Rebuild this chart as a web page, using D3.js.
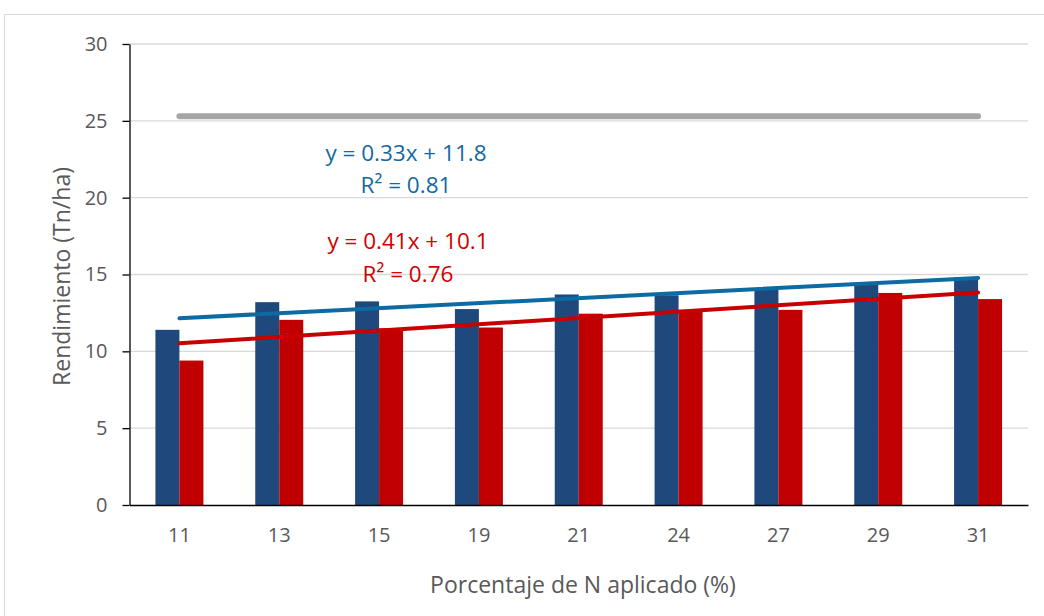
<!DOCTYPE html>
<html>
<head>
<meta charset="utf-8">
<script src="https://cdn.jsdelivr.net/npm/d3@7"></script>
<style>
  body { margin: 0; background: #fff; }
  text { font-family: "Open Sans", sans-serif; }
</style>
</head>
<body>
<div id="chart"></div>
<script>
// Data
const categories = ["11", "13", "15", "19", "21", "24", "27", "29", "31"];
const serieAzul = [11.4, 13.2, 13.25, 12.75, 13.7, 13.65, 14.05, 14.4, 14.8];
const serieRoja = [9.4, 12.05, 11.5, 11.55, 12.45, 12.7, 12.7, 13.8, 13.4];
const serieGris = [25.3, 25.3, 25.3, 25.3, 25.3, 25.3, 25.3, 25.3, 25.3];
const yTicks = [0, 5, 10, 15, 20, 25, 30];
const etiquetaAzul = ["y = 0.33x + 11.8", "R² = 0.81"];
const etiquetaRoja = ["y = 0.41x + 10.1", "R² = 0.76"];

const W = 1044, H = 616;
const plot = { left: 129.5, right: 1028, top: 44, bottom: 505 };

const svg = d3.select("#chart")
    .append("svg")
    .attr("width", W)
    .attr("height", H);

// Chart border
svg.append("rect")
    .attr("x", 4.5).attr("y", 14.5)
    .attr("width", W).attr("height", H)
    .attr("fill", "#fff")
    .attr("stroke", "#d9d9d9");

// Scales
const x = d3.scaleBand()
    .domain(categories)
    .range([plot.left, plot.right])
    .padding(0);
const bw = x.bandwidth();
const xSub = d3.scaleBand()
    .domain(["azul", "roja"])
    .range([bw / 2 - 24, bw / 2 + 24]);
const y = d3.scaleLinear()
    .domain([0, 30])
    .range([plot.bottom, plot.top]);

// Gridlines
svg.append("g")
    .selectAll("line")
    .data(yTicks.filter(d => d > 0))
    .join("line")
    .attr("x1", plot.left).attr("x2", plot.right)
    .attr("y1", d => y(d)).attr("y2", d => y(d))
    .attr("stroke", "#d9d9d9")
    .attr("stroke-width", 1.3);

// Bars
const rows = categories.map((c, i) => ({ c, azul: serieAzul[i], roja: serieRoja[i] }));
const colores = { azul: "#1f497d", roja: "#c00000" };
["azul", "roja"].forEach(k => {
    svg.append("g")
        .selectAll("rect")
        .data(rows)
        .join("rect")
        .attr("x", d => x(d.c) + xSub(k))
        .attr("width", xSub.bandwidth())
        .attr("y", d => y(d[k]))
        .attr("height", d => y(0) - y(d[k]))
        .attr("fill", colores[k]);
});

// Gray reference line
const cx = c => x(c) + bw / 2;
svg.append("path")
    .datum(categories.map((c, i) => [cx(c), y(serieGris[i])]))
    .attr("fill", "none")
    .attr("stroke", "#a6a6a6")
    .attr("stroke-width", 6)
    .attr("stroke-linecap", "round")
    .attr("d", d3.line());

// Linear trend lines (least squares on index 1..n)
function tendencia(vals) {
    const xs = vals.map((v, i) => i + 1);
    const mx = d3.mean(xs), my = d3.mean(vals);
    const a = d3.sum(xs, (xi, i) => (xi - mx) * (vals[i] - my)) / d3.sum(xs, xi => (xi - mx) ** 2);
    const b = my - a * mx;
    return xs.map(xi => a * xi + b);
}
[[serieAzul, "#0e6aa2"], [serieRoja, "#c80000"]].forEach(([vals, col]) => {
    const t = tendencia(vals);
    const pts = [0, categories.length - 1].map(i => [cx(categories[i]), y(t[i])]);
    svg.append("path")
        .datum(pts)
        .attr("fill", "none")
        .attr("stroke", col)
        .attr("stroke-width", 4)
        .attr("stroke-linecap", "round")
        .attr("d", d3.line());
});

// Axes
const yAxis = svg.append("g")
    .attr("transform", `translate(${plot.left},0)`)
    .call(d3.axisLeft(y).tickValues(yTicks).tickSize(7).tickSizeOuter(0).tickPadding(15));
yAxis.select(".domain").attr("stroke", "#000").attr("stroke-width", 1.3);
yAxis.selectAll(".tick line").attr("stroke", "#000").attr("stroke-width", 1.3);
yAxis.selectAll("text")
    .attr("fill", "#595959")
    .style("font-size", "20px");

const xAxis = svg.append("g")
    .attr("transform", `translate(0,${plot.bottom})`)
    .call(d3.axisBottom(x).tickSize(0).tickPadding(23));
xAxis.select(".domain").attr("stroke", "#000").attr("stroke-width", 1.5);
xAxis.selectAll("text")
    .attr("fill", "#595959")
    .style("font-size", "20px");

// Axis titles
svg.append("text")
    .attr("transform", `translate(62,${(plot.top + plot.bottom) / 2 + 2}) rotate(-90)`)
    .attr("text-anchor", "middle")
    .attr("dy", "0.35em")
    .attr("fill", "#595959")
    .style("font-size", "23px")
    .text("Rendimiento (Tn/ha)");

svg.append("text")
    .attr("x", 583)
    .attr("y", 593)
    .attr("text-anchor", "middle")
    .attr("fill", "#595959")
    .style("font-size", "23px")
    .text("Porcentaje de N aplicado (%)");

// Trend labels
const lbl = (lines, col, cxp, y1, y2) => {
    [y1, y2].forEach((yy, i) => {
        svg.append("text")
            .attr("x", cxp).attr("y", yy)
            .attr("text-anchor", "middle")
            .attr("fill", col)
            .style("font-size", "22.5px")
            .text(lines[i]);
    });
};
lbl(etiquetaAzul, "#1469a0", 406, 161, 193);
lbl(etiquetaRoja, "#d00000", 408, 249, 282);
</script>
</body>
</html>
